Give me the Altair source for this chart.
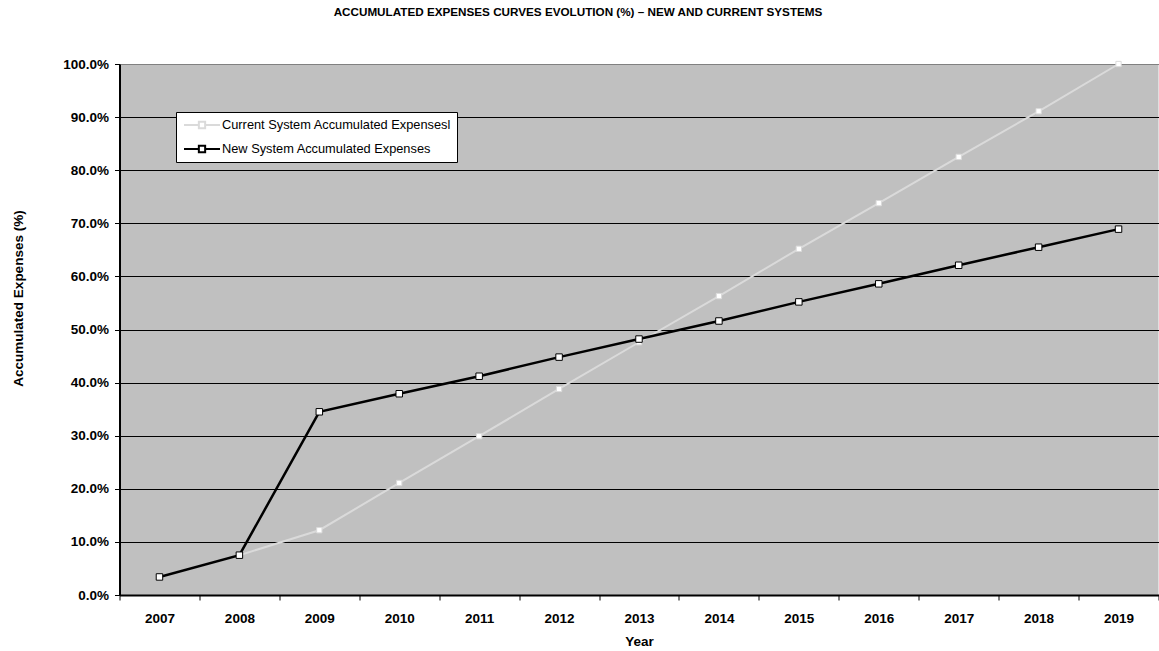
import altair as alt
import pandas as pd

# Years on the horizontal axis
years = ["2007", "2008", "2009", "2010", "2011", "2012", "2013",
         "2014", "2015", "2016", "2017", "2018", "2019"]

# Accumulated expenses, in percent of the total
current_system = [3.4, 7.5, 12.2, 21.1, 29.9, 38.8, 47.6, 56.3, 65.2, 73.8, 82.5, 91.1, 100.0]
new_system = [3.4, 7.5, 34.5, 37.9, 41.2, 44.8, 48.2, 51.6, 55.2, 58.6, 62.1, 65.5, 68.9]

series_names = ["Current System Accumulated Expensesl", "New System Accumulated Expenses"]
series_colors = ["#dadada", "#000000"]
y_ticks = [0, 10, 20, 30, 40, 50, 60, 70, 80, 90, 100]

FONT = "Liberation Sans"
AXIS_FONT_SIZE = 13.5

df = pd.DataFrame({
    "Year": years + years,
    "Expenses": current_system + new_system,
    "Series": [series_names[0]] * len(years) + [series_names[1]] * len(years),
})

# legend symbol: a short line with a small square in the middle
LEGEND_SYMBOL = ("M-2.57,0L-0.45,0M0.45,0L2.57,0"
                 "M-0.45,-0.45L0.45,-0.45L0.45,0.45L-0.45,0.45Z")

x_enc = alt.X(
    "Year:O",
    sort=years,
    bandPosition=0.5,
    scale=alt.Scale(type="band", paddingInner=0, paddingOuter=0),
    axis=alt.Axis(
        title="Year",
        labelAngle=0,
        tickBand="extent",
        tickSize=5,
        tickColor="black",
        domainColor="black",
        domainWidth=2,
        labelFont=FONT,
        labelFontSize=AXIS_FONT_SIZE,
        labelFontWeight="bold",
        labelColor="black",
        labelPadding=11,
        titleFont=FONT,
        titleFontSize=AXIS_FONT_SIZE,
        titleFontWeight="bold",
        titleColor="black",
        titleY=46,
        titleBaseline="middle",
        grid=False,
    ),
)

y_enc = alt.Y(
    "Expenses:Q",
    scale=alt.Scale(domain=[0, 100], nice=False, zero=True),
    axis=alt.Axis(
        title="Accumulated Expenses (%)",
        values=y_ticks,
        labelExpr="format(datum.value, '.1f') + '%'",
        tickSize=5,
        tickColor="black",
        domainColor="black",
        domainWidth=2,
        grid=True,
        gridColor=alt.condition("datum.value >= 100", alt.value("#808080"), alt.value("black")),
        gridWidth=1,
        labelFont=FONT,
        labelFontSize=AXIS_FONT_SIZE,
        labelFontWeight="bold",
        labelColor="black",
        labelPadding=6,
        titleFont=FONT,
        titleFontSize=AXIS_FONT_SIZE,
        titleFontWeight="bold",
        titleColor="black",
        titleAngle=-90,
        titleX=-101.5,
        titleY=234,
        titleAlign="center",
        titleBaseline="middle",
    ),
)

color_enc = alt.Color(
    "Series:N",
    scale=alt.Scale(domain=series_names, range=series_colors),
    legend=alt.Legend(
        title=None,
        orient="none",
        legendX=56.5,
        legendY=48,
        direction="vertical",
        fillColor="white",
        strokeColor="black",
        padding=5,
        rowPadding=8,
        symbolType=LEGEND_SYMBOL,
        symbolSize=196,
        symbolOffset=13,
        symbolStrokeWidth=2,
        symbolFillColor="white",
        labelOffset=12,
        labelLimit=0,
        labelFont=FONT,
        labelFontSize=12.8,
        labelColor="black",
    ),
)

base = alt.Chart(df).encode(x=x_enc, y=y_enc, color=color_enc)


def only(name):
    return alt.datum.Series == name


# current system underneath, new system on top
current_line = base.transform_filter(only(series_names[0])).mark_line(strokeWidth=2)
current_pts = base.transform_filter(only(series_names[0])).mark_point(
    shape="square", filled=False, fill="white", strokeWidth=1, size=28, opacity=1
)
new_line = base.transform_filter(only(series_names[1])).mark_line(strokeWidth=2.5)
new_pts = base.transform_filter(only(series_names[1])).mark_point(
    shape="square", filled=False, fill="white", strokeWidth=1, size=42, opacity=1
)

chart = (
    alt.layer(current_line, current_pts, new_line, new_pts)
    .properties(
        width=1039,
        height=531,
        autosize="none",
        padding={"left": 119.5, "top": 64, "right": 0, "bottom": 56},
        background="white",
        title=alt.TitleParams(
            "ACCUMULATED EXPENSES CURVES EVOLUTION (%) \u2013 NEW AND CURRENT SYSTEMS",
            font=FONT,
            fontSize=11.7,
            fontWeight="bold",
            color="black",
            anchor="middle",
            frame="group",
            dx=-61,
            offset=38,
        ),
    )
    .configure_view(fill="#c0c0c0", stroke=None)
)

chart.save("out.html", embed_options={"renderer": "svg", "actions": False})
